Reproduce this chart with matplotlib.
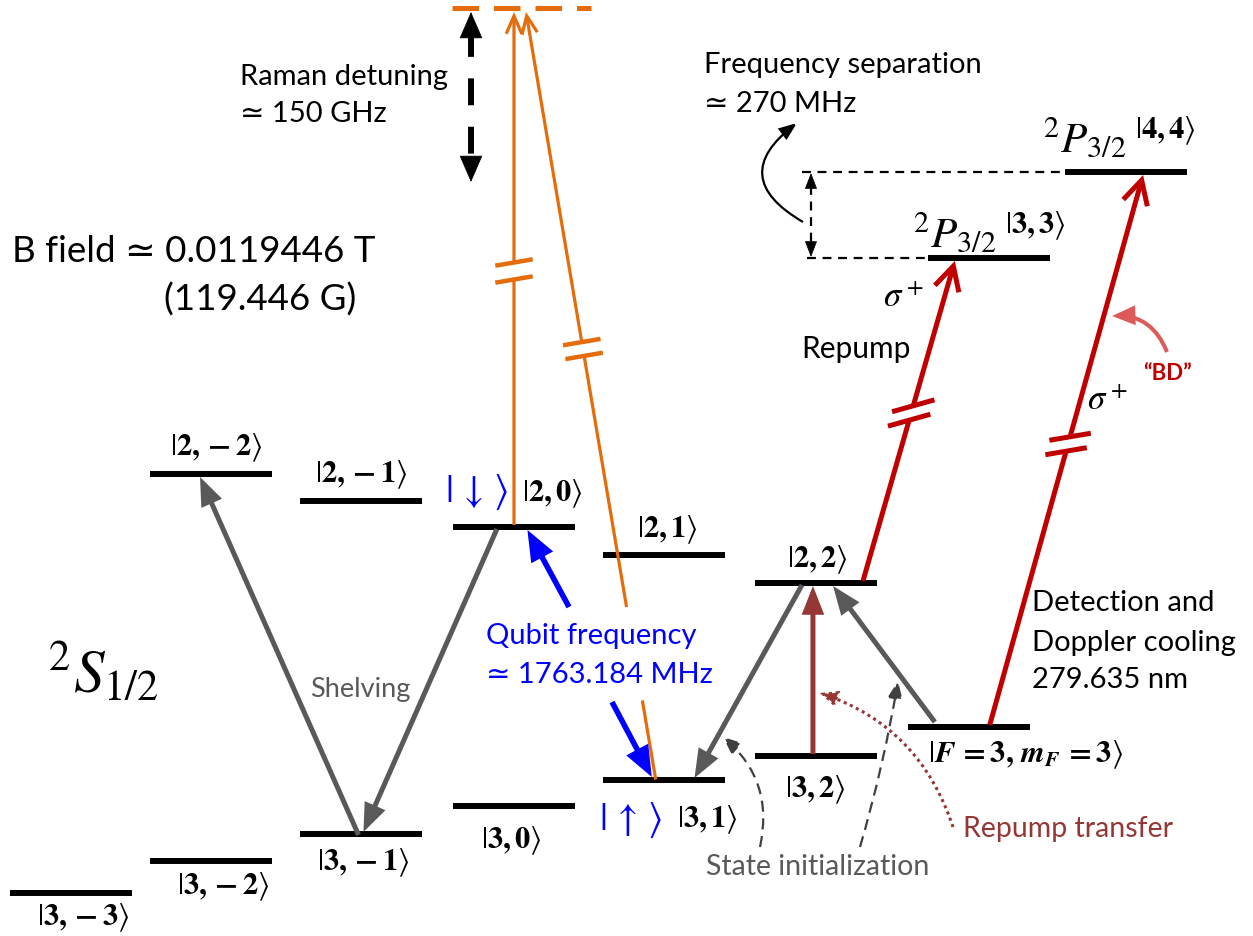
import numpy as np
import matplotlib
matplotlib.use('Agg')
import matplotlib.pyplot as plt
from matplotlib.patches import FancyArrowPatch

plt.rcParams['font.family'] = ['Lato', 'DejaVu Sans']
plt.rcParams['mathtext.fontset'] = 'stix'

# energy levels of the ground state manifold (left x, height in picture units)
s_names = ['3,-3', '3,-2', '3,-1', '3,0', '3,1', '3,2', 'F3',
           '2,-2', '2,-1', '2,0', '2,1', '2,2']
s_x = [10, 150, 300, 453, 603, 755, 908, 150, 300, 453, 603, 755]
s_y = [893, 861, 834, 806, 780, 756, 727, 474, 501, 527, 555, 583]
# excited P3/2 levels
p_names = ['P33', 'P44']
p_x = [928, 1065]
p_y = [258, 172]
LEVEL_W = 122

ket_text = {
    '3,-3': r'$|\mathbf{3,-3}\rangle$', '3,-2': r'$|\mathbf{3,-2}\rangle$',
    '3,-1': r'$|\mathbf{3,-1}\rangle$', '3,0': r'$|\mathbf{3,0}\rangle$',
    '3,1': r'$|\mathbf{3,1}\rangle$', '3,2': r'$|\mathbf{3,2}\rangle$',
    'F3': r'$|\mathbfit{F}\,\mathbf{=3,}\,\mathbfit{m}_{\mathbfit{F}}\,\mathbf{=3}\rangle$',
    '2,-2': r'$|\mathbf{2,-2}\rangle$', '2,-1': r'$|\mathbf{2,-1}\rangle$',
    '2,0': r'$|\mathbf{2,0}\rangle$', '2,1': r'$|\mathbf{2,1}\rangle$',
    '2,2': r'$|\mathbf{2,2}\rangle$',
    'P33': r'$|\mathbf{3,3}\rangle$', 'P44': r'$|\mathbf{4,4}\rangle$',
}
# label centre offsets from level centre
ket_off = {
    '3,-3': (12, 25), '3,-2': (12, 26), '3,-1': (2, 29), '3,0': (-3, 35),
    '3,1': (43, 40), '3,2': (-1, 34), 'F3': (57, 28),
    '2,-2': (5, -26), '2,-1': (0, -26), '2,0': (38, -33), '2,1': (3, -25),
    '2,2': (1, -23), 'P33': (46, -32), 'P44': (39, -41),
}

GRAY = '#595959'
RED = '#C00000'
BROWN = '#953735'
ORANGE = '#E46C0A'
BLUE = '#0000FF'

lev = {}
for n, x, y in zip(s_names + p_names, s_x + p_x, s_y + p_y):
    lev[n] = (x, y)


def at(name, frac, dy=0):
    x, y = lev[name]
    return (x + frac * LEVEL_W, y + dy)


fig = plt.figure(figsize=(12.53, 9.36), dpi=100)
ax = fig.add_axes([0, 0, 1, 1])
ax.set_xlim(0, 1253)
ax.set_ylim(936, 0)
ax.axis('off')

for n, (x, y) in lev.items():
    ax.plot([x, x + LEVEL_W], [y, y], color='black', lw=4.3, solid_capstyle='butt', zorder=3)
    ox, oy = ket_off[n]
    ax.text(x + LEVEL_W / 2 + ox, y + oy, ket_text[n], fontsize=22,
            ha='center', va='center', zorder=4)

# term symbols in front of the P3/2 kets
for n in p_names:
    x, y = lev[n]
    ox, oy = ket_off[n]
    ax.text(x + LEVEL_W / 2 + ox - 38, y + oy + 6, r'$^2P_{3/2}$', fontsize=31,
            ha='right', va='center', zorder=4)


def arrow(p0, p1, color, lw, style='-|>', hl=1.4, hw=0.55, ms=10, z=5, **kw):
    if style == '-|>':
        st = f'-|>,head_length={hl},head_width={hw}'
    elif style == '->':
        st = f'->,head_length={hl},head_width={hw}'
    else:
        st = style
    a = FancyArrowPatch(p0, p1, arrowstyle=st, color=color, lw=lw,
                        shrinkA=0, shrinkB=0, mutation_scale=ms, zorder=z,
                        joinstyle='miter', capstyle='butt', **kw)
    ax.add_patch(a)


def point_on(p0, p1, y):
    t = (y - p0[1]) / (p1[1] - p0[1])
    return (p0[0] + t * (p1[0] - p0[0]), y)


def line_break(p0, p1, yc, color, lw, sep=16, half=21, tilt=-0.17):
    c = np.array(point_on(p0, p1, yc))
    u = np.array(p1, float) - np.array(p0, float)
    u /= np.linalg.norm(u)
    d = np.array([1.0, tilt])
    d /= np.linalg.norm(d)
    m1 = c - u * sep / 2
    m2 = c + u * sep / 2
    quad = np.array([m1 - d * half * 0.8, m1 + d * half * 0.8,
                     m2 + d * half * 0.8, m2 - d * half * 0.8])
    ax.fill(quad[:, 0], quad[:, 1], color='white', zorder=6, lw=0)
    for m in (m1, m2):
        ax.plot([m[0] - d[0] * half, m[0] + d[0] * half],
                [m[1] - d[1] * half, m[1] + d[1] * half],
                color=color, lw=lw, solid_capstyle='butt', zorder=7)


# Raman beams (orange)
raman_top = 12
p0 = at('2,0', 0.5, -2)
p1 = (p0[0], raman_top)
arrow(p0, p1, ORANGE, 2.3, '->', hl=1.6, hw=0.7, ms=8)
line_break(p0, p1, 271, ORANGE, 3.2, sep=17, half=19)

q0 = at('3,1', 0.43, -2)
q1 = (526, raman_top)
arrow(point_on(q0, q1, 607), q1, ORANGE, 2.3, '->', hl=1.6, hw=0.7, ms=8)
ax.plot([q0[0], point_on(q0, q1, 702)[0]], [q0[1], 702], color=ORANGE, lw=2.3, zorder=5)
line_break(q0, q1, 349, ORANGE, 3.2, sep=14, half=19)

ax.plot([452, 591], [8, 8], color=ORANGE, lw=3.6, dashes=(5.3, 3.0), solid_capstyle='butt')

# Raman detuning arrow
ax.plot([471, 471], [30, 160], color='black', lw=4.3, dashes=(4.5, 3.6))
arrow((471, 34), (471, 12), 'black', 0.5, '-|>', hl=1.5, hw=0.65, ms=12)
arrow((471, 160), (471, 182), 'black', 0.5, '-|>', hl=1.5, hw=0.65, ms=12)

# shelving arrows
arrow(at('3,-1', 0.48, 1), at('2,-2', 0.41, 3), GRAY, 3.6)
arrow(at('2,0', 0.36, 2), at('3,-1', 0.52, -2), GRAY, 3.6)

# qubit frequency arrows
arrow((569, 607), at('2,0', 0.61, 3), BLUE, 4.0, hl=1.5, hw=0.6)
arrow((612, 702), at('3,1', 0.40, -3), BLUE, 4.0, hl=1.5, hw=0.6)

# ground-state transitions near |2,2>
arrow(at('2,2', 0.385, 2), at('3,1', 0.75, -2), GRAY, 3.6)
arrow(at('F3', 0.22, -5), at('2,2', 0.64, 3), GRAY, 3.6)
arrow(at('3,2', 0.475, -2), at('2,2', 0.475, 3), BROWN, 3.6)

# repump and detection beams (red)
r0 = at('2,2', 0.885, -2)
r1 = at('P33', 0.22, 3)
arrow(r0, r1, RED, 3.6, '->', hl=1.7, hw=0.9, ms=10)
line_break(r0, r1, 413, RED, 3.6, sep=15, half=22, tilt=-0.28)

b0 = at('F3', 0.67, -2)
b1 = at('P44', 0.64, 3)
arrow(b0, b1, RED, 3.6, '->', hl=1.7, hw=0.9, ms=10)
line_break(b0, b1, 444, RED, 3.6, sep=15, half=21, tilt=-0.17)

# frequency separation markers
ax.plot([802, lev['P44'][0]], [lev['P44'][1]] * 2, color='black', lw=1.6, dashes=(4, 3))
ax.plot([807, lev['P33'][0]], [lev['P33'][1]] * 2, color='black', lw=1.6, dashes=(4, 3))
ax.plot([811, 811], [186, 245], color='black', lw=1.6, dashes=(4, 3))
arrow((811, 188), (811, 173), 'black', 0.5, '-|>', hl=1.3, hw=0.5, ms=8)
arrow((811, 243), (811, 257), 'black', 0.5, '-|>', hl=1.3, hw=0.5, ms=8)
arrow((803, 222), (797, 123), 'black', 1.6, '-|>', hl=1.3, hw=0.5, ms=8,
      connectionstyle='arc3,rad=-0.75')

# BD pointer
arrow((1167, 352), (1112, 316), '#DC5A5A', 2.9, '-|>', hl=1.3, hw=0.55, ms=9,
      connectionstyle='arc3,rad=0.35')

# state initialization and repump transfer
arrow((760, 847), (723, 737), '#404040', 1.6, '-|>', hl=1.3, hw=0.55, ms=8,
      connectionstyle='arc3,rad=0.3', linestyle=(0, (5, 3)))
arrow((860, 847), (898, 681), '#404040', 1.6, '-|>', hl=1.3, hw=0.55, ms=8,
      connectionstyle='arc3,rad=0.03', linestyle=(0, (5, 3)))
arrow((953, 827), (820, 693), BROWN, 2.2, '-|>', hl=1.2, hw=0.55, ms=8,
      connectionstyle='arc3,rad=0.25', linestyle=(0, (1, 1.2)))

# text annotations
T = 21
ax.text(240, 77, 'Raman detuning', fontsize=T, va='center')
ax.text(240, 114, '≃ 150 GHz', fontsize=T, va='center')
ax.text(12, 251, 'B field ≃ 0.0119446 T', fontsize=26.5, va='center')
ax.text(164, 300, '(119.446 G)', fontsize=26.5, va='center')
ax.text(48, 672, r'$^2S_{1/2}$', fontsize=44, va='center')
ax.text(360, 690, 'Shelving', fontsize=19.5, color=GRAY, ha='center', va='center')
ax.text(486, 636, 'Qubit frequency', fontsize=T, color=BLUE, va='center')
ax.text(486, 675, '≃ 1763.184 MHz', fontsize=T, color=BLUE, va='center')
ax.text(476, 492, r'$|\,\downarrow\,\rangle$', fontsize=28, color=BLUE, ha='center', va='center')
ax.text(630, 820, r'$|\,\uparrow\,\rangle$', fontsize=28, color=BLUE, ha='center', va='center')
ax.text(704, 65, 'Frequency separation', fontsize=T, va='center')
ax.text(704, 104, '≃ 270 MHz', fontsize=T, va='center')
ax.text(856, 349, 'Repump', fontsize=21.5, ha='center', va='center')
ax.text(903, 297, r'$\sigma^+$', fontsize=25, ha='center', va='center')
ax.text(1107, 400, r'$\sigma^+$', fontsize=25, ha='center', va='center')
ax.text(1168, 373, '“BD”', fontsize=16, color=RED, fontweight='bold', ha='center', va='center')
ax.text(1032, 603, 'Detection and', fontsize=T, va='center')
ax.text(1032, 643, 'Doppler cooling', fontsize=T, va='center')
ax.text(1032, 680, '279.635 nm', fontsize=T, va='center')
ax.text(963, 829, 'Repump transfer', fontsize=20.5, color=BROWN, va='center')
ax.text(706, 867, 'State initialization', fontsize=20.5, color=GRAY, va='center')

fig.savefig('out.png', dpi=100, facecolor='white')
